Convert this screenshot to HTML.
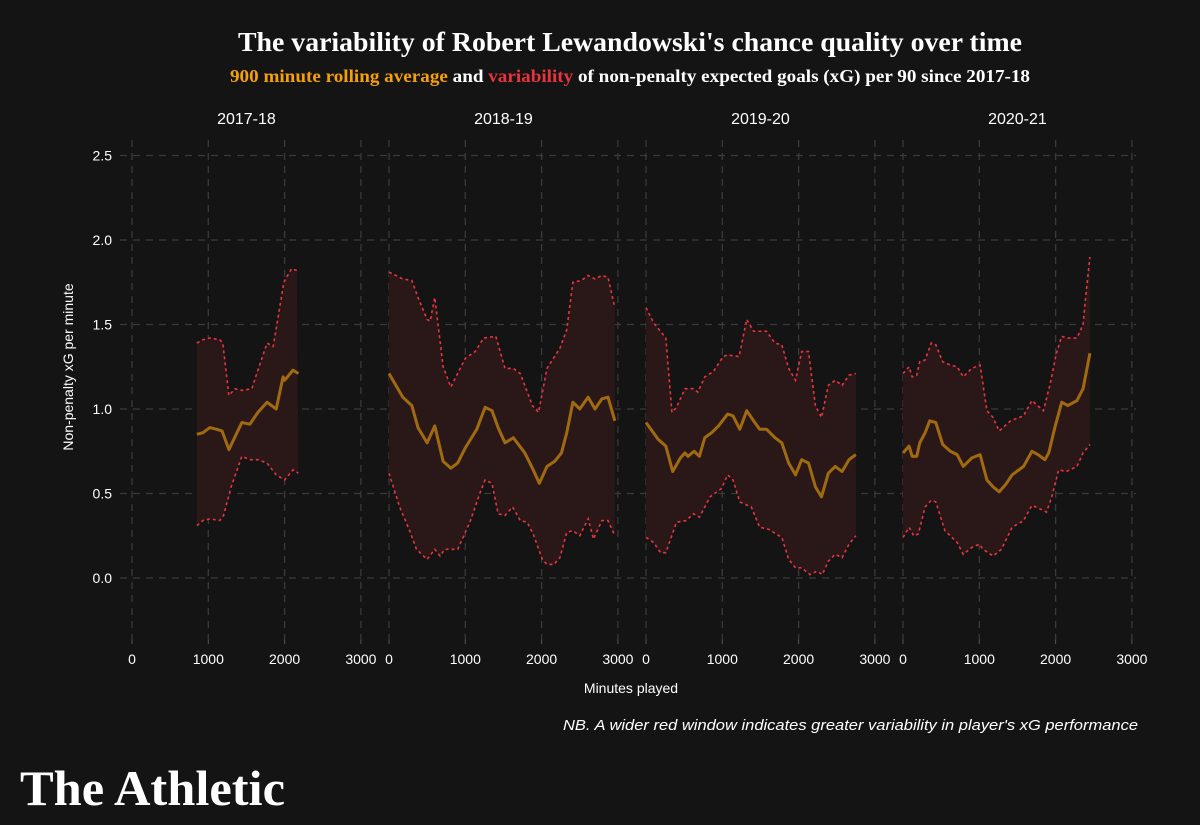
<!DOCTYPE html>
<html><head><meta charset="utf-8">
<style>
html,body{margin:0;padding:0;background:#141414;}
svg{display:block;}
.sans{font-family:"Liberation Sans",sans-serif;}
.serif{font-family:"Liberation Serif",serif;}
</style></head>
<body>
<svg id="chart" width="1200" height="825" viewBox="0 0 1200 825">
<rect width="1200" height="825" fill="#141414"/>
<text class="serif" x="630" y="51" text-anchor="middle" fill="#ffffff" font-weight="bold" font-size="27" textLength="784" lengthAdjust="spacingAndGlyphs">The variability of Robert Lewandowski's chance quality over time</text>
<text class="serif" x="630" y="82" text-anchor="middle" font-weight="bold" font-size="18" textLength="800" lengthAdjust="spacingAndGlyphs"><tspan fill="#f5a00a">900 minute rolling average</tspan><tspan fill="#ffffff">  and  </tspan><tspan fill="#e8343f">variability</tspan><tspan fill="#ffffff">  of non-penalty expected goals (xG) per 90 since 2017-18</tspan></text>
<g id="grid"></g>
<g id="panels"></g>
<g id="axes" class="sans"></g>
<text class="sans" x="73" y="367" transform="rotate(-90 73 367)" text-anchor="middle" fill="#ffffff" font-size="14">Non-penalty xG per minute</text>
<text class="sans" x="631" y="693" text-anchor="middle" fill="#ffffff" font-size="14">Minutes played</text>
<text class="sans" x="1138" y="730" text-anchor="end" fill="#ffffff" font-size="15" font-style="italic" textLength="575" lengthAdjust="spacingAndGlyphs">NB. A wider red window indicates greater variability in player's xG performance</text>
<text class="serif" x="20" y="805" fill="#ffffff" font-weight="bold" font-size="50" textLength="265" lengthAdjust="spacingAndGlyphs">The Athletic</text>
</svg>
<script>
const seasons = ["2017-18","2018-19","2019-20","2020-21"];
const yTicks = [0,0.5,1,1.5,2,2.5];
const xTicks = [0,1000,2000,3000];
const minutes1 = [850,930,1020,1110,1180,1270,1440,1545,1650,1770,1890,1980,2000,2110,2180];
const mean1 = [0.85,0.86,0.89,0.88,0.87,0.76,0.92,0.91,0.98,1.04,1.0,1.19,1.17,1.23,1.21];
const upMin1 = [850,930,1020,1150,1190,1270,1350,1440,1570,1650,1770,1850,1910,1990,2090,2160];
const upper1 = [1.39,1.41,1.42,1.41,1.39,1.08,1.12,1.11,1.12,1.23,1.39,1.37,1.53,1.75,1.83,1.82];
const loMin1 = [850,930,1020,1150,1200,1300,1440,1545,1650,1770,1890,2000,2110,2180];
const lower1 = [0.31,0.34,0.35,0.34,0.37,0.54,0.72,0.70,0.70,0.68,0.61,0.58,0.64,0.62];
const minutes2 = [0,180,300,380,500,600,710,810,900,1000,1150,1260,1350,1430,1520,1630,1780,1890,1970,2070,2170,2260,2330,2410,2500,2610,2700,2790,2870,2960];
const mean2 = [1.21,1.07,1.02,0.89,0.80,0.90,0.69,0.65,0.68,0.77,0.88,1.01,0.99,0.89,0.80,0.83,0.74,0.64,0.56,0.66,0.69,0.74,0.86,1.04,1.0,1.07,1.0,1.06,1.07,0.93];
const upMin2 = [0,180,300,380,500,540,600,710,810,1000,1130,1240,1400,1520,1630,1720,1880,1960,2070,2240,2330,2410,2520,2610,2700,2790,2870,2960];
const upper2 = [1.81,1.77,1.76,1.66,1.53,1.52,1.66,1.25,1.13,1.30,1.34,1.42,1.43,1.24,1.24,1.21,1.02,0.98,1.24,1.36,1.47,1.75,1.76,1.79,1.77,1.79,1.78,1.60];
const loMin2 = [0,140,270,360,500,600,670,730,900,1060,1190,1260,1350,1430,1520,1620,1720,1810,1890,2010,2070,2160,2240,2330,2410,2500,2610,2680,2790,2870,2960];
const lower2 = [0.62,0.42,0.28,0.17,0.11,0.17,0.13,0.17,0.17,0.33,0.50,0.58,0.56,0.38,0.37,0.42,0.34,0.33,0.26,0.11,0.08,0.08,0.12,0.27,0.28,0.25,0.35,0.23,0.34,0.34,0.25];
const minutes3 = [0,160,260,350,450,510,550,630,700,770,860,950,1070,1140,1230,1320,1410,1490,1580,1690,1780,1870,1960,2040,2130,2220,2300,2390,2480,2570,2660,2750];
const mean3 = [0.92,0.82,0.78,0.63,0.71,0.74,0.72,0.75,0.72,0.83,0.86,0.90,0.97,0.96,0.88,0.99,0.93,0.88,0.88,0.83,0.80,0.68,0.61,0.70,0.68,0.54,0.48,0.62,0.66,0.63,0.70,0.73];
const upMin3 = [0,100,260,340,400,510,620,680,770,880,1010,1070,1220,1320,1410,1580,1690,1780,1870,1960,2040,2130,2220,2300,2390,2480,2570,2660,2750];
const upper3 = [1.60,1.51,1.42,0.98,1.01,1.12,1.12,1.10,1.19,1.22,1.31,1.32,1.31,1.53,1.46,1.46,1.39,1.38,1.24,1.17,1.34,1.34,1.02,0.95,1.14,1.17,1.14,1.20,1.21];
const loMin3 = [0,100,190,260,400,530,620,700,840,990,1070,1140,1230,1380,1490,1600,1780,1870,1960,2040,2150,2240,2310,2390,2480,2570,2660,2750];
const lower3 = [0.24,0.21,0.15,0.15,0.33,0.34,0.38,0.36,0.48,0.53,0.61,0.58,0.45,0.42,0.30,0.29,0.24,0.11,0.06,0.06,0.02,0.04,0.02,0.10,0.14,0.12,0.20,0.25];
const minutes4 = [0,80,120,180,220,290,350,430,520,620,710,790,900,1010,1100,1180,1260,1340,1430,1580,1690,1770,1860,1910,1990,2080,2160,2280,2360,2450];
const mean4 = [0.74,0.78,0.72,0.72,0.80,0.86,0.93,0.92,0.79,0.75,0.73,0.66,0.71,0.73,0.58,0.54,0.51,0.55,0.61,0.66,0.75,0.73,0.70,0.74,0.89,1.04,1.02,1.05,1.12,1.33];
const upMin4 = [0,80,120,180,220,290,370,430,520,620,710,790,900,1010,1100,1180,1260,1410,1580,1690,1840,1930,2010,2080,2160,2280,2360,2400,2450];
const upper4 = [1.21,1.25,1.19,1.20,1.28,1.29,1.39,1.38,1.28,1.26,1.25,1.19,1.24,1.26,0.99,0.95,0.87,0.93,0.96,1.05,0.99,1.15,1.33,1.43,1.42,1.42,1.50,1.69,1.90];
const loMin4 = [0,80,140,200,290,370,430,550,710,790,900,1000,1050,1180,1290,1430,1580,1690,1790,1880,1950,2040,2140,2280,2360,2450];
const lower4 = [0.24,0.30,0.25,0.26,0.42,0.46,0.45,0.28,0.21,0.14,0.18,0.20,0.17,0.13,0.17,0.30,0.34,0.43,0.41,0.39,0.48,0.64,0.63,0.66,0.74,0.79];

const NS = "http://www.w3.org/2000/svg";
const origins = [132, 389, 646, 903];
const pxPerMin = 0.0763;
const plotTop = 140, plotBottom = 640;
function yScale(v){ return 578 - v*169; }
function xScale(p, m){ return origins[p] + m*pxPerMin; }
function mk(tag, attrs, parent){ const e = document.createElementNS(NS, tag); for (const k in attrs) e.setAttribute(k, attrs[k]); parent.appendChild(e); return e; }

const grid = document.getElementById('grid');
const axes = document.getElementById('axes');
const panelsG = document.getElementById('panels');

yTicks.forEach(function(t){
  const y = yScale(t);
  const l = mk('line', {x1:120, x2:1136, y1:y, y2:y, stroke:'#3a3a3a', 'stroke-width':1.3, 'stroke-dasharray':'7,6'}, grid);
  
  
  const tx = mk('text', {x:112, y:y+5, 'text-anchor':'end', fill:'#ffffff', 'font-size':14}, axes);
  tx.textContent = t.toFixed(1);
  
  
});

const meanSets = [[minutes1,mean1],[minutes2,mean2],[minutes3,mean3],[minutes4,mean4]];
const upSets = [[upMin1,upper1],[upMin2,upper2],[upMin3,upper3],[upMin4,upper4]];
const loSets = [[loMin1,lower1],[loMin2,lower2],[loMin3,lower3],[loMin4,lower4]];

seasons.forEach(function(s, p){
  xTicks.forEach(function(t){
    const x = xScale(p, t);
    const l = mk('line', {x1:x, x2:x, y1:plotTop, y2:plotBottom, stroke:'#3a3a3a', 'stroke-width':1.3, 'stroke-dasharray':'7,6'}, grid);
    
    
    const tk = mk('line', {x1:x, x2:x, y1:plotBottom, y2:plotBottom+4, stroke:'#555'}, axes);
    
    
    const tx = mk('text', {x:x, y:664, 'text-anchor':'middle', fill:'#ffffff', 'font-size':14}, axes);
    tx.textContent = String(t);
    
    
  });
  const st = mk('text', {x:xScale(p,1500), y:124, 'text-anchor':'middle', fill:'#ffffff', 'font-size':16}, axes);
  st.textContent = s;
  
  

  const g = mk('g', {}, panelsG);
  
  
  const up = upSets[p], lo = loSets[p], me = meanSets[p];
  let d = '';
  up[0].forEach(function(m,i){ d += (i?'L':'M') + xScale(p,m) + ',' + yScale(up[1][i]); });
  for (let i = lo[0].length-1; i >= 0; i--) d += 'L' + xScale(p,lo[0][i]) + ',' + yScale(lo[1][i]);
  d += 'Z';
  const band = mk('path', {d:d, fill:'#2a1819', stroke:'none'}, g);
  
  
  function line(arr, vals, attrs, name){
    const pts = arr.map(function(m,i){ return xScale(p,m) + ',' + yScale(vals[i]); }).join(' ');
    const pl = mk('polyline', Object.assign({points:pts, fill:'none'}, attrs), g);
    
    
  }
  line(up[0], up[1], {stroke:'#e8343f', 'stroke-width':1.6, 'stroke-dasharray':'3,3'}, 'upper-bound-line');
  line(lo[0], lo[1], {stroke:'#e8343f', 'stroke-width':1.6, 'stroke-dasharray':'3,3'}, 'lower-bound-line');
  line(me[0], me[1], {stroke:'#a06a10', 'stroke-width':3, 'stroke-linejoin':'round'}, 'rolling-average-line');
});
</script>
</body></html>
